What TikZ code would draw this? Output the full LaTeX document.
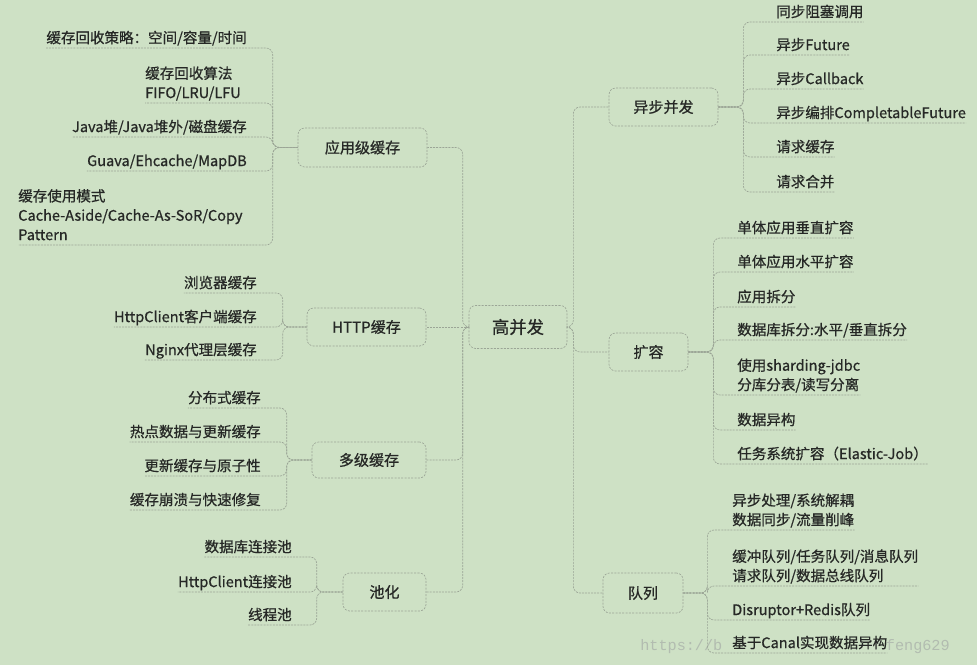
\documentclass[tikz,border=0pt]{standalone}
\usepackage{fontspec}
\newfontfamily\cjk{Noto Sans CJK SC}[FakeBold=0.7]
\newfontfamily\wmfont{Liberation Mono}
\definecolor{bg}{RGB}{206,225,197}
\definecolor{ink}{RGB}{38,40,38}
\definecolor{ln}{RGB}{155,165,150}
\definecolor{wmc}{RGB}{178,188,176}
\begin{document}
\begin{tikzpicture}[x=0.75pt,y=-0.75pt,
 box/.style={draw=ln, dash pattern=on 1.5pt off 1pt, line width=0.5pt, rounded corners=5pt, inner sep=0pt, font=\cjk\fontsize{11.3}{13}\selectfont, text=ink},
 leaf/.style={inner xsep=0pt, inner ysep=0.5pt, text depth=3pt, align=left, font=\cjk\fontsize{10.9}{14.5}\selectfont, text=ink},
 conn/.style={draw=ln, line width=0.5pt, dash pattern=on 1.5pt off 0.8pt, rounded corners=5pt},
 wm/.style={font=\wmfont\fontsize{11.4}{13}\selectfont, text=wmc, inner sep=0pt},
 bw/.style={minimum width=#1*0.75pt}, bh/.style={minimum height=#1*0.75pt}]
\useasboundingbox (0,0) rectangle (977,665);
\fill[bg] (0,0) rectangle (977,665);

% watermark
\node[wm, anchor=base west] (wm1) at (640,650) {https://b};
\node[wm, anchor=base east] (wm2) at (950,650) {feng629};

% main boxes
\node[box, bw=98, bh=43, font=\cjk\fontsize{13}{15}\selectfont] (c) at (518,327) {高并发};
\node[box, bw=129, bh=39] (app) at (362.5,147.5) {应用级缓存};
\node[box, bw=119, bh=38] (http) at (366.5,327) {HTTP缓存};
\node[box, bw=114, bh=36] (multi) at (369,460) {多级缓存};
\node[box, bw=83, bh=38] (pool) at (384.5,592) {池化};
\node[box, bw=109, bh=38] (async) at (663.5,107) {异步并发};
\node[box, bw=79, bh=38] (expand) at (648.5,352) {扩容};
\node[box, bw=80, bh=40] (queue) at (643,593) {队列};

% left leaves
\node[leaf, anchor=south east] (a1) at (247,48) {缓存回收策略：空间/容量/时间};
\node[leaf, anchor=south west] (a2) at (145,103) {缓存回收算法\\FIFO/LRU/LFU};
\node[leaf, anchor=south east] (a3) at (247,137) {Java堆/Java堆外/磁盘缓存};
\node[leaf, anchor=south east] (a4) at (247,171) {Guava/Ehcache/MapDB};
\node[leaf, anchor=south west] (a5) at (18,245) {缓存使用模式\\Cache-Aside/Cache-As-SoR/Copy\\Pattern};

\node[leaf, anchor=south east] (h1) at (257,293) {浏览器缓存};
\node[leaf, anchor=south east] (h2) at (257,327) {HttpClient客户端缓存};
\node[leaf, anchor=south east] (h3) at (257,360) {Nginx代理层缓存};

\node[leaf, anchor=south east] (m1) at (261,408) {分布式缓存};
\node[leaf, anchor=south east] (m2) at (261,442) {热点数据与更新缓存};
\node[leaf, anchor=south east] (m3) at (261,476) {更新缓存与原子性};
\node[leaf, anchor=south east] (m4) at (261,510) {缓存崩溃与快速修复};

\node[leaf, anchor=south east] (p1) at (292,557) {数据库连接池};
\node[leaf, anchor=south east] (p2) at (292,592) {HttpClient连接池};
\node[leaf, anchor=south east] (p3) at (292,625) {线程池};

% right leaves
\node[leaf, anchor=south west] (r1) at (776,22) {同步阻塞调用};
\node[leaf, anchor=south west] (r2) at (776,55) {异步Future};
\node[leaf, anchor=south west] (r3) at (776,89) {异步Callback};
\node[leaf, anchor=south west] (r4) at (776,123) {异步编排CompletableFuture};
\node[leaf, anchor=south west] (r5) at (776,157) {请求缓存};
\node[leaf, anchor=south west] (r6) at (776,192) {请求合并};

\node[leaf, anchor=south west] (e1) at (737,238) {单体应用垂直扩容};
\node[leaf, anchor=south west] (e2) at (737,272) {单体应用水平扩容};
\node[leaf, anchor=south west] (e3) at (737,307) {应用拆分};
\node[leaf, anchor=south west] (e4) at (737,340) {数据库拆分:水平/垂直拆分};
\node[leaf, anchor=south west] (e5) at (737,395) {使用sharding-jdbc\\分库分表/读写分离};
\node[leaf, anchor=south west] (e6) at (737,430) {数据异构};
\node[leaf, anchor=south west] (e7) at (737,464) {任务系统扩容（Elastic-Job）};

\node[leaf, anchor=south west] (q1) at (732,530) {异步处理/系统解耦\\数据同步/流量削峰};
\node[leaf, anchor=south west] (q2) at (732,586) {缓冲队列/任务队列/消息队列\\请求队列/数据总线队列};
\node[leaf, anchor=south west] (q3) at (732,620) {Disruptor+Redis队列};
\node[leaf, anchor=south west] (q4) at (732,653) {基于Canal实现数据异构};

% trunk connectors
\draw[conn] (c.west) -- ++(-6,0) |- (app.east);
\draw[conn] (c.west) -- (http.east);
\draw[conn] (c.west) -- ++(-6,0) |- (multi.east);
\draw[conn] (c.west) -- ++(-6,0) |- (pool.east);
\draw[conn] (c.east) -- ++(6,0) |- (async.west);
\draw[conn] (c.east) -- ++(6,0) |- (expand.west);
\draw[conn] (c.east) -- ++(6,0) |- (queue.west);

% left leaf connectors
\foreach \n in {a1,a2,a3,a4,a5} \draw[conn] (app.west) -- ++(-25,0) |- (\n.south west);
\foreach \n in {h1,h2,h3} \draw[conn] (http.west) -- ++(-24,0) |- (\n.south west);
\foreach \n in {m1,m2,m3,m4} \draw[conn] (multi.west) -- ++(-25,0) |- (\n.south west);
\foreach \n in {p1,p2,p3} \draw[conn] (pool.west) -- ++(-26,0) |- (\n.south west);

% right leaf connectors
\foreach \n in {r1,r2,r3,r4,r5,r6} \draw[conn] (async.east) -- ++(25,0) |- (\n.south east);
\foreach \n in {e1,e2,e3,e4,e5,e6,e7} \draw[conn] (expand.east) -- ++(25,0) |- (\n.south east);
\foreach \n in {q1,q2,q3,q4} \draw[conn] (queue.east) -- ++(24,0) |- (\n.south east);
\end{tikzpicture}
\end{document}
